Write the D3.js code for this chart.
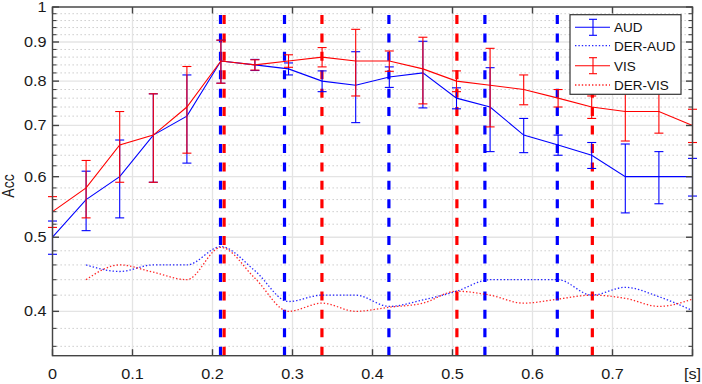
<!DOCTYPE html>
<html><head><meta charset="utf-8">
<script src="https://cdn.jsdelivr.net/npm/d3@7"></script>
<style>
html,body{margin:0;padding:0;background:#fff;}
svg{display:block;font-family:"Liberation Sans",Arial,Helvetica,sans-serif;}
</style></head>
<body><svg id="c" width="702" height="384"></svg>
<script>
// ---- data ----
const times = [0, 0.042, 0.084, 0.126, 0.168, 0.2105, 0.253, 0.295, 0.337, 0.379, 0.421, 0.463, 0.505, 0.547, 0.589, 0.632, 0.674, 0.716, 0.758, 0.8];
const audMean = [0.50,0.56,0.60,0.68,0.72,0.85,0.84,0.83,0.80,0.79,0.81,0.82,0.76,0.74,0.68,0.66,0.64,0.60,0.60,0.60];
const audErr  = [0.025,0.05,0.07,0.09,0.095,0.055,0.014,0.015,0.025,0.084,0.025,0.082,0.024,0.093,0.035,0.02,0.025,0.062,0.047,0.034];
const visMean = [0.54,0.58,0.66,0.68,0.74,0.85,0.84,0.85,0.86,0.85,0.85,0.83,0.80,0.79,0.78,0.76,0.74,0.73,0.73,0.70];
const visErr  = [0.025,0.05,0.07,0.09,0.096,0.055,0.013,0.016,0.025,0.085,0.026,0.083,0.025,0.093,0.035,0.02,0.025,0.062,0.046,0.035];
const derAud = [null,0.46,0.451,0.46,0.46,0.486,0.452,0.412,0.42,0.42,0.406,0.414,0.425,0.44,0.44,0.44,0.42,0.43,0.418,0.401];
const derVis = [null,0.44,0.46,0.45,0.44,0.485,0.442,0.40,0.41,0.40,0.405,0.41,0.425,0.42,0.41,0.415,0.42,0.416,0.406,0.415];
const blueEvents = [0.2100, 0.2900, 0.4205, 0.5405, 0.6310];
const redEvents  = [0.2145, 0.3368, 0.5055, 0.6748];
const xTicks = [0, 0.1, 0.2, 0.3, 0.4, 0.5, 0.6, 0.7, 0.8];
const xTickLabels = ["0","0.1","0.2","0.3","0.4","0.5","0.6","0.7","[s]"];
const yTicks = [0.4, 0.5, 0.6, 0.7, 0.8, 0.9, 1];
const yTickLabels = ["0.4","0.5","0.6","0.7","0.8","0.9","1"];
const legendLabels = ["AUD","DER-AUD","VIS","DER-VIS"];

// ---- layout ----
const L = 52.5, R = 692.5, T = 7, B = 355.7;
const BLUE = "#0000ff", RED = "#ff0000", AX = "#444";
const svg = d3.select("#c");
const x = d3.scaleLinear().domain([0, 0.8]).range([L, R]);
const y = d3.scaleLog().domain([0.35, 1]).range([B, T]);
const yMinor = d3.range(36, 100, 2).map(v => v / 100).filter(v => !yTicks.some(t => Math.abs(t - v) < 1e-9));

// grid
const g = svg.append("g");
g.selectAll(".mg").data(yMinor).join("line")
  .attr("x1", L).attr("x2", R).attr("y1", d => y(d)).attr("y2", d => y(d))
  .attr("stroke", "#c4c4c4").attr("stroke-width", 1).attr("stroke-dasharray", "1.3,2.7");
g.selectAll(".Mg").data(yTicks).join("line")
  .attr("x1", L).attr("x2", R).attr("y1", d => y(d)).attr("y2", d => y(d))
  .attr("stroke", "#e4e4e4").attr("stroke-width", 1.3);
g.selectAll(".Vg").data(xTicks).join("line")
  .attr("x1", d => x(d)).attr("x2", d => x(d)).attr("y1", T).attr("y2", B)
  .attr("stroke", "#e4e4e4").attr("stroke-width", 1.3);

// event dashed lines (drawn from bottom up)
const ev = svg.append("g");
function evLines(data, col) {
  ev.selectAll(null).data(data).join("line")
    .attr("x1", d => x(d)).attr("x2", d => x(d)).attr("y1", B).attr("y2", T)
    .attr("stroke", col).attr("stroke-width", 3.2).attr("stroke-dasharray", "9,9.43");
}
evLines(blueEvents, BLUE);
evLines(redEvents, RED);

// series
const idx = d3.range(times.length);
function errSeries(mean, err, col) {
  const s = svg.append("g");
  s.selectAll(null).data(idx).join("line")
    .attr("x1", i => x(times[i])).attr("x2", i => x(times[i]))
    .attr("y1", i => y(mean[i] - err[i])).attr("y2", i => y(mean[i] + err[i]))
    .attr("stroke", col).attr("stroke-width", 1.1);
  [-1, 1].forEach(sg => {
    s.selectAll(null).data(idx).join("line")
      .attr("x1", i => x(times[i]) - 4.5).attr("x2", i => x(times[i]) + 4.5)
      .attr("y1", i => y(mean[i] + sg * err[i])).attr("y2", i => y(mean[i] + sg * err[i]))
      .attr("stroke", col).attr("stroke-width", 1.1);
  });
  s.append("path").datum(idx)
    .attr("d", d3.line().x(i => x(times[i])).y(i => y(mean[i])))
    .attr("fill", "none").attr("stroke", col).attr("stroke-width", 1.1);
}
function derSeries(vals, col) {
  svg.append("path").datum(idx.filter(i => vals[i] != null))
    .attr("d", d3.line().curve(d3.curveMonotoneX).x(i => x(times[i])).y(i => y(vals[i])))
    .attr("fill", "none").attr("stroke", col).attr("stroke-width", 1.3)
    .attr("stroke-dasharray", "1.4,2").attr("opacity", 0.85);
}
errSeries(audMean, audErr, BLUE);
derSeries(derAud, BLUE);
errSeries(visMean, visErr, RED);
derSeries(derVis, RED);

// axes box
const ax = svg.append("g").attr("stroke", AX).attr("stroke-width", 1.4);
ax.append("rect").attr("x", L).attr("y", T).attr("width", R - L).attr("height", B - T).attr("fill", "none");
ax.selectAll(null).data(xTicks).join("line")
  .attr("x1", d => x(d)).attr("x2", d => x(d)).attr("y1", B).attr("y2", B - 6.5);
ax.selectAll(null).data(xTicks).join("line")
  .attr("x1", d => x(d)).attr("x2", d => x(d)).attr("y1", T).attr("y2", T + 6.5);
ax.selectAll(null).data(yTicks).join("line")
  .attr("x1", L).attr("x2", L + 6.5).attr("y1", d => y(d)).attr("y2", d => y(d));
ax.selectAll(null).data(yTicks).join("line")
  .attr("x1", R).attr("x2", R - 6.5).attr("y1", d => y(d)).attr("y2", d => y(d));
ax.selectAll(null).data(yMinor).join("line")
  .attr("x1", L).attr("x2", L + 4).attr("y1", d => y(d)).attr("y2", d => y(d)).attr("stroke-width", 1.1);
ax.selectAll(null).data(yMinor).join("line")
  .attr("x1", R).attr("x2", R - 4).attr("y1", d => y(d)).attr("y2", d => y(d)).attr("stroke-width", 1.1);

// tick labels
svg.selectAll(null).data(xTicks).join("text")
  .attr("transform", d => `translate(${x(d)},379) scale(1.12,1)`).attr("text-anchor", "middle")
  .attr("font-size", 14.5).attr("fill", "#1a1a1a").text((d, i) => xTickLabels[i]);
svg.selectAll(null).data(yTicks).join("text")
  .attr("transform", d => `translate(46.5,${y(d) + 5}) scale(1.12,1)`).attr("text-anchor", "end")
  .attr("font-size", 14.5).attr("fill", "#1a1a1a").text((d, i) => yTickLabels[i]);
svg.append("text").attr("transform", "translate(14,186) scale(1.15,1) rotate(-90)")
  .attr("text-anchor", "middle").attr("font-size", 14).attr("fill", "#1a1a1a").text("Acc");

// legend
const lg = svg.append("g");
lg.append("rect").attr("x", 570).attr("y", 14.7).attr("width", 111).attr("height", 79.6)
  .attr("fill", "#fff").attr("stroke", "#333").attr("stroke-width", 1.2);
const rowsY = [27.3, 45.7, 65.7, 85];
const legCol = [BLUE, BLUE, RED, RED];
const legDer = [false, true, false, true];
legendLabels.forEach((lab, i) => {
  const yy = rowsY[i];
  const ln = lg.append("line").attr("x1", 575).attr("x2", 610).attr("y1", yy).attr("y2", yy)
    .attr("stroke", legCol[i]).attr("stroke-width", legDer[i] ? 1.3 : 1.1);
  if (legDer[i]) ln.attr("stroke-dasharray", "1.4,2").attr("opacity", 0.85);
  else {
    lg.append("line").attr("x1", 593).attr("x2", 593).attr("y1", yy - 8).attr("y2", yy + 8).attr("stroke", legCol[i]).attr("stroke-width", 1.1);
    [-8, 8].forEach(o => lg.append("line").attr("x1", 589).attr("x2", 597).attr("y1", yy + o).attr("y2", yy + o).attr("stroke", legCol[i]).attr("stroke-width", 1.1));
  }
  lg.append("text").attr("x", 614).attr("y", yy + 5).attr("font-size", 13.5).attr("fill", "#111").text(lab);
});
</script></body></html>
